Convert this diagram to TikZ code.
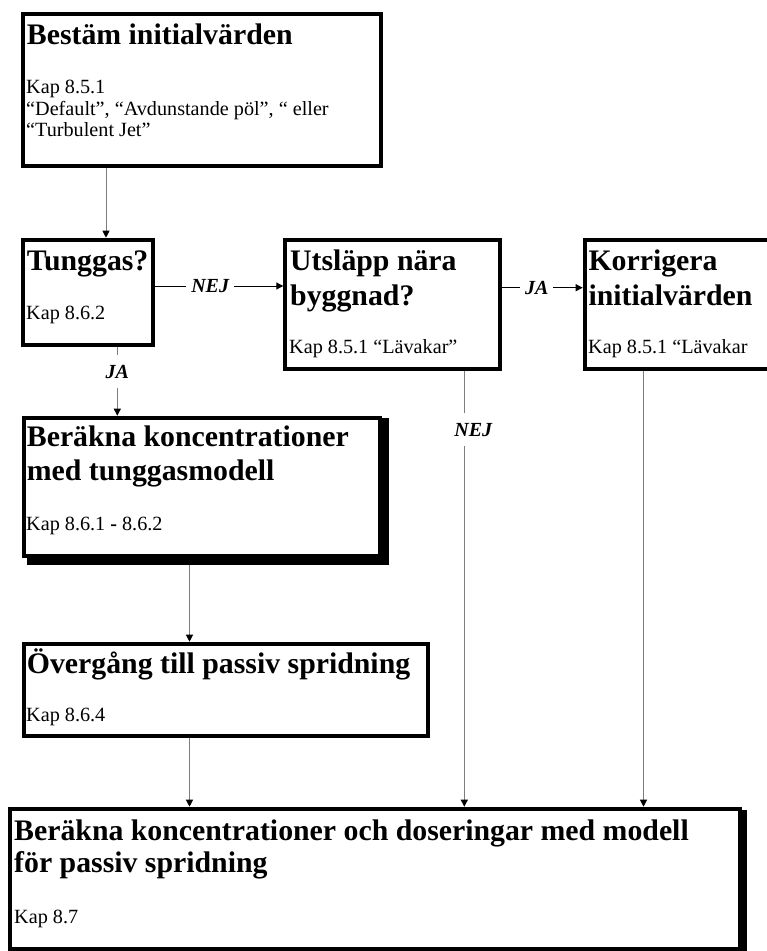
\documentclass[tikz,border=0pt]{standalone}
\usepackage{fontspec}
\setmainfont{Liberation Serif}
\usetikzlibrary{arrows.meta,calc}
\definecolor{conn}{RGB}{125,125,125}
\begin{document}
\begin{tikzpicture}[x=1pt,y=-1pt,
  box/.style={draw=black, line width=4pt, fill=white, anchor=north west, inner sep=0pt, rectangle},
  ttl/.style={anchor=base west, inner sep=0pt, font=\fontsize{29.8pt}{33pt}\selectfont\bfseries},
  sml/.style={anchor=base west, inner sep=0pt, font=\fontsize{20.2pt}{21.7pt}\selectfont},
  hlbl/.style={fill=white, inner xsep=5pt, inner ysep=2pt, font=\fontsize{20pt}{22pt}\selectfont\bfseries\itshape},
  vlbl/.style={fill=white, inner xsep=3pt, inner ysep=10pt, font=\fontsize{20pt}{22pt}\selectfont\bfseries\itshape},
  vconn/.style={draw=conn, line width=1pt, -{Triangle[width=7pt,length=7pt,color=black]}},
  hconn/.style={draw=black, line width=1pt, -{Triangle[width=7pt,length=7pt,color=black]}},
  shade/.style={fill=black}
]
\path[use as bounding box] (0,0) rectangle (767,951);
\clip (0,0) rectangle (767,951);

% shadows (drawn first)
\fill[shade] (26.7,418) rectangle (389,565);
\fill[shade] (14.3,810) rectangle (747.3,965);

% boxes
\node[box, minimum width=358pt, minimum height=152pt] (b1) at (20.7,11.7) {};
\node[box, minimum width=130.3pt, minimum height=105pt] (tung) at (20.7,237.7) {};
\node[box, minimum width=214.7pt, minimum height=129pt] (uts) at (283.3,237.7) {};
\node[box, minimum width=216pt, minimum height=129pt] (korr) at (582.7,237.7) {};
\node[box, minimum width=356pt, minimum height=138.3pt] (ber) at (21.7,415.7) {};
\node[box, minimum width=404.3pt, minimum height=92.3pt] (overg) at (21.7,641.7) {};
\node[box, minimum width=729.4pt, minimum height=140.3pt] (bot) at (8.3,806.7) {};

% texts
\node[ttl] (b1t) at (26.7,44.3) {Bestäm initialvärden};
\node[sml] (b1s1) at (26,93.3) {Kap 8.5.1};
\node[sml] (b1s2) at (26,115) {“Default”, “Avdunstande pöl”, “ eller};
\node[sml] (b1s3) at (26,136.7) {“Turbulent Jet”};

\node[ttl] (tungt) at (26.7,270) {Tunggas?};
\node[sml] (tungs) at (26,319) {Kap 8.6.2};

\node[ttl] (utst1) at (290,270) {Utsläpp nära};
\node[ttl] (utst2) at (290,305) {byggnad?};
\node[sml] (utss) at (289,353) {Kap 8.5.1 “Lävakar”};

\node[ttl] (korrt1) at (588.3,270) {Korrigera};
\node[ttl] (korrt2) at (588.3,305) {initialvärden};
\node[sml] (korrs) at (588,353) {Kap 8.5.1 “Lävakar};

\node[ttl] (bert1) at (26.7,446.7) {Beräkna koncentrationer};
\node[ttl] (bert2) at (26.7,480) {med tunggasmodell};
\node[sml] (bers) at (26,530) {Kap 8.6.1 {\bfseries -} 8.6.2};

\node[ttl] (overgt) at (26.7,673) {Övergång till passiv spridning};
\node[sml] (overgs) at (26,721.7) {Kap 8.6.4};

\node[ttl] (bott1) at (14,840) {Beräkna koncentrationer och doseringar med modell};
\node[ttl] (bott2) at (14,872) {för passiv spridning};
\node[sml] (bots) at (14,923) {Kap 8.7};

% helper coordinates
\coordinate (xa) at (106,0);
\coordinate (xb) at (117.3,0);
\coordinate (xc) at (189.5,0);
\coordinate (xd) at (464.3,0);
\coordinate (xe) at (643.5,0);
\coordinate (ya) at (0,286);
\coordinate (yb) at (0,287.7);
\coordinate (yc) at (0,565);

% connectors
\draw[vconn] (b1.south -| xa) -- (tung.north -| xa);
\draw[hconn] (tung.east |- ya) -- node[hlbl, pos=0.43] (lnej1) {NEJ} (uts.west |- ya);
\draw[hconn] (uts.east |- yb) -- node[hlbl, pos=0.43] (lja1) {JA} (korr.west |- yb);
\draw[vconn] (tung.south -| xb) -- node[vlbl, pos=0.36] (lja2) {JA} (ber.north -| xb);
\draw[vconn] (xc |- yc) -- (overg.north -| xc);
\draw[vconn] (overg.south -| xc) -- (bot.north -| xc);
\draw[vconn] (uts.south -| xd) -- node[vlbl, pos=0.135, xshift=9pt] (lnej2) {NEJ} (bot.north -| xd);
\draw[vconn] (korr.south -| xe) -- (bot.north -| xe);
\end{tikzpicture}
\end{document}
